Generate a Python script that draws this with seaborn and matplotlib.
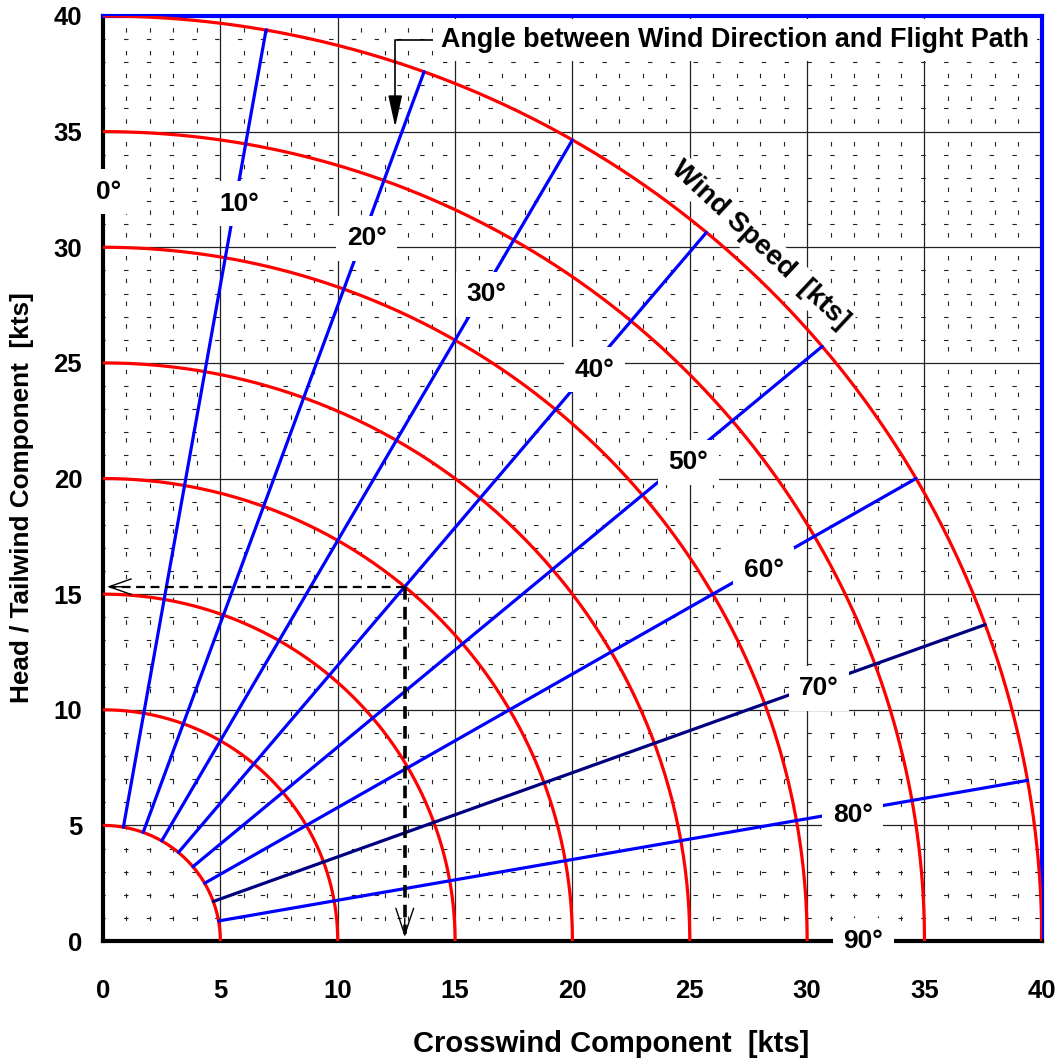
import numpy as np
import pandas as pd
import matplotlib
matplotlib.use("Agg")
import matplotlib.pyplot as plt
import seaborn as sns

# Wind speeds drawn as arcs [kts] and wind/flight-path angles drawn as radials [deg]
speeds = [5, 10, 15, 20, 25, 30, 35, 40]
angles = [10, 20, 30, 40, 50, 60, 70, 80]
angle_label_values = [0, 10, 20, 30, 40, 50, 60, 70, 80, 90]
angle_label_texts = ["0°", "10°", "20°", "30°", "40°", "50°", "60°", "70°", "80°", "90°"]
tick_values = [0, 5, 10, 15, 20, 25, 30, 35, 40]

# Worked example: 20 kts of wind at 40° to the flight path
example_speed = 20
example_angle = 40

sns.set_style("white")
plt.rcParams["font.family"] = ["Liberation Sans", "DejaVu Sans"]
plt.rcParams["font.weight"] = "bold"
for key in ("text.color", "axes.labelcolor", "xtick.color", "ytick.color"):
    plt.rcParams[key] = "black"

fig = plt.figure(figsize=(10.62, 10.59), dpi=100)
ax = fig.add_axes([0.097, 0.1114, 0.884, 0.8735])

# Speed arcs
theta = np.linspace(0, np.pi / 2, 200)
arcs = pd.DataFrame({
    "x": np.concatenate([s * np.sin(theta) for s in speeds]),
    "y": np.concatenate([s * np.cos(theta) for s in speeds]),
    "speed": np.repeat(speeds, len(theta)),
})
sns.lineplot(data=arcs, x="x", y="y", units="speed", estimator=None, sort=False,
             color="#ff0000", lw=2.3, ax=ax, legend=False, zorder=4)

# Angle radials from the innermost to the outermost speed arc
r_in, r_out = min(speeds), max(speeds)
rad = np.deg2rad(angles)
radials = pd.DataFrame({
    "x": np.concatenate([[r_in * np.sin(a), r_out * np.sin(a)] for a in rad]),
    "y": np.concatenate([[r_in * np.cos(a), r_out * np.cos(a)] for a in rad]),
    "angle": np.repeat(angles, 2),
})
palette = {a: ("#000080" if a == 70 else "#0000ff") for a in angles}
sns.lineplot(data=radials, x="x", y="y", hue="angle", units="angle", estimator=None,
             sort=False, palette=palette, lw=2.3, ax=ax, legend=False, zorder=5)

# Grid: dashed 1-kt minor grid, solid 5-kt major grid
for v in range(0, 41):
    if v % 5 == 0:
        continue
    ax.axhline(v, color="#222222", lw=0.8, ls=(2, (4, 16.5)), zorder=1)
    ax.axvline(v, color="#222222", lw=0.8, ls=(2, (4, 16.5)), zorder=1)
for v in tick_values[1:-1]:
    ax.axhline(v, color="#222222", lw=0.9, zorder=1.5)
    ax.axvline(v, color="#222222", lw=0.9, zorder=1.5)

ax.set_xlim(0, 40)
ax.set_ylim(0, 40)
ax.set_xticks(tick_values)
ax.set_yticks(tick_values)
ax.tick_params(axis="both", direction="out", length=6, width=2.2, color="black",
               labelsize=18.5)
ax.tick_params(axis="x", pad=21)
ax.tick_params(axis="y", pad=9)
for lab in ax.get_xticklabels() + ax.get_yticklabels():
    lab.set_fontweight("bold")

for side in ("left", "bottom"):
    ax.spines[side].set_color("black")
    ax.spines[side].set_linewidth(3)
for side in ("top", "right"):
    ax.spines[side].set_color("#0000ff")
    ax.spines[side].set_linewidth(3)

ax.set_xlabel("Crosswind Component  [kts]", fontsize=21, fontweight="bold")
ax.set_ylabel("Head / Tailwind Component  [kts]", fontsize=18.8, fontweight="bold")
ax.xaxis.set_label_coords(0.5415, -0.12)
ax.xaxis.label.set_va("baseline")
ax.yaxis.set_label_coords(-0.086, 0.479)
ax.yaxis.label.set_va("center")

# Angle labels on white patches along a circle between the 30 and 35 kt arcs
label_r = 32.4
for a, t in zip(angle_label_values, angle_label_texts):
    ar = np.deg2rad(a + 0.3)
    lx, ly = label_r * np.sin(ar), label_r * np.cos(ar)
    if a == 0:
        lx = 0.25
    if a == 90:
        ly = 0.0
    ax.text(lx, ly, t, fontsize=19, fontweight="bold", ha="center", va="center",
            zorder=10, clip_on=False,
            bbox=dict(boxstyle="square,pad=0.4", fc="white", ec="none"))

ax.text(28.0, 30.1, "Wind Speed  [kts]", fontsize=20, fontweight="bold",
        rotation=-43, ha="center", va="center", rotation_mode="anchor", zorder=3.5,
        bbox=dict(boxstyle="square,pad=0.1", fc="white", ec="none"))

# Worked example read-off
ex_a = np.deg2rad(example_angle)
ex_x = example_speed * np.sin(ex_a)
ex_y = example_speed * np.cos(ex_a)
ax.plot([ex_x, 0.3], [ex_y, ex_y], color="black", lw=1.6, ls=(0, (4, 2.5)), zorder=6)
ax.plot([ex_x, ex_x], [ex_y, 0.3], color="black", lw=2.6, ls=(0, (3.5, 2)), zorder=6)
ax.annotate("", xy=(0.05, ex_y), xytext=(1.0, ex_y),
            arrowprops=dict(arrowstyle="->,head_length=1.0,head_width=0.35",
                            color="black", lw=1.0, mutation_scale=16), zorder=7)
ax.annotate("", xy=(ex_x, 0.05), xytext=(ex_x, 1.1),
            arrowprops=dict(arrowstyle="->,head_length=1.2,head_width=0.4",
                            color="black", lw=1.0, mutation_scale=16), zorder=7)

ax.annotate("Angle between Wind Direction and Flight Path", xy=(12.45, 35.2),
            xytext=(14.4, 38.95), fontsize=19.4, fontweight="bold", ha="left", va="center",
            zorder=10,
            bbox=dict(boxstyle="square,pad=0.3", fc="white", ec="none"),
            arrowprops=dict(arrowstyle="-|>,head_length=1.0,head_width=0.22",
                            connectionstyle="angle,angleA=180,angleB=90,rad=0",
                            color="black", lw=1.2, shrinkA=0, shrinkB=0))

fig.savefig("out.png", dpi=100, facecolor="white")
